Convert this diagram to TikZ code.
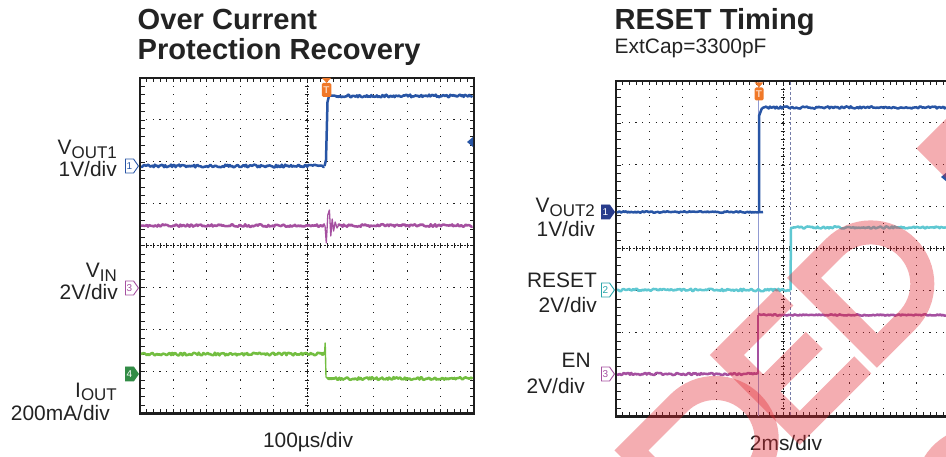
\documentclass[tikz,border=0pt]{standalone}
\usepackage{fontspec}
\setmainfont{Liberation Sans}
\usetikzlibrary{shapes.symbols}

% subscript of the channel labels
\newcommand{\chsub}[1]{\raisebox{-3.5bp}{\fontsize{17}{17}\selectfont #1}}

\begin{document}
\begin{tikzpicture}[x=1bp, y=-1bp,
    frame/.style={line width=2.6bp, draw=framegray},
    griddoth/.style={line width=1.1bp, draw=framegray, dash pattern=on 1.1bp off 5.58bp, dash phase=0.55bp},
    griddotv/.style={line width=1.1bp, draw=framegray, dash pattern=on 1.1bp off 7.29bp, dash phase=0.55bp},
    gridaxis/.style={line width=0.8bp, draw=framegray, dash pattern=on 2bp off 1.34bp},
    gridtick/.style={line width=0.7bp, draw=framegray},
    trace/.style={line width=2.5bp, line join=round},
    cursor/.style={line width=1bp, draw=cursorblue},
    cursordash/.style={line width=0.9bp, draw=cursorblue!80!black, dash pattern=on 3bp off 2bp},
    chmark/.style={shape=signal, signal to=east, signal pointer angle=110, minimum width=13bp,
        minimum height=14bp, inner sep=0.8bp, line width=0.9bp, font=\fontsize{10}{10}\selectfont, anchor=east},
    trigmark/.style={rectangle, rounded corners=1.5bp, fill=trigorange, text=trigorange!35!white,
        font=\fontsize{10}{10}\selectfont\bfseries, minimum width=9.5bp, minimum height=14bp, inner sep=0pt},
    lbl/.style={font=\fontsize{21}{23}\selectfont, text=inkgray, inner sep=0pt, anchor=base east},
    ttl/.style={font=\fontsize{29.2}{31}\selectfont\bfseries, text=inkgray, inner sep=0pt, anchor=base west},
    wmark/.style={draw=wmred, line width=24bp, opacity=0.38, line join=miter}]

    % colours of the scope shots
    \definecolor{inkgray}{RGB}{35,35,35}
    \definecolor{framegray}{RGB}{30,30,30}
    \definecolor{traceblue}{RGB}{40,85,165}
    \definecolor{markblue}{RGB}{40,60,140}
    \definecolor{tracepurple}{RGB}{165,80,160}
    \definecolor{tracegreen}{RGB}{115,190,65}
    \definecolor{markgreen}{RGB}{50,140,70}
    \definecolor{tracecyan}{RGB}{95,200,210}
    \definecolor{markcyan}{RGB}{40,165,170}
    \definecolor{trigorange}{RGB}{240,120,40}
    \definecolor{cursorblue}{RGB}{145,155,210}
    \definecolor{wmred}{RGB}{228,40,50}

    \useasboundingbox (0,0) rectangle (946,457);
    \clip (0,0) rectangle (946,457);
    \fill[white] (0,0) rectangle (946,457);
    \pgfmathsetseed{3}

    % --- grids of both screens ---
    \foreach \ox/\oy in {140/78, 616/81} {
        \begin{scope}[shift={(\ox,\oy)}]
            \foreach \i in {1,2,3,4,6,7,8,9} \draw[griddotv] (\i*33.4,0) -- (\i*33.4,335.5);
            \foreach \j in {1,2,3,5,6,7} \draw[griddoth] (0,\j*41.94) -- (334,\j*41.94);
            \draw[gridaxis] (167,0) -- (167,335.5);
            \draw[gridaxis] (0,167.75) -- (334,167.75);
            \foreach \k in {1,...,49} {
                \draw[gridtick] (\k*6.68,165.5) -- (\k*6.68,170);
                \draw[gridtick] (\k*6.68,1) -- (\k*6.68,4.5);
                \draw[gridtick] (\k*6.68,334.5) -- (\k*6.68,331);
            }
            \foreach \k in {1,...,39} {
                \draw[gridtick] (164.7,\k*8.3875) -- (169.3,\k*8.3875);
                \draw[gridtick] (1,\k*8.3875) -- (4.5,\k*8.3875);
                \draw[gridtick] (333,\k*8.3875) -- (329.5,\k*8.3875);
            }
            \draw[frame] (0,0) rectangle (334,335.5);
        \end{scope}
    }

    % --- 1. Over current protection recovery ---
    \draw[trace, traceblue] plot[domain=141:324.5, samples=160] (\x,{166+1.4*rand});
    \draw[trace, traceblue] (324.5,166) -- (326,160) -- (327.5,102) -- (329,96);
    \draw[trace, traceblue] plot[domain=329:472.5, samples=130] (\x,{96+1.4*rand});

    \draw[trace, tracepurple] plot[domain=141:325, samples=160] (\x,{225.5+1.3*rand});
    \draw[trace, tracepurple, line width=1.3bp] (325,225.5) -- (326.3,243) -- (327.8,215) -- (329.4,210)
        -- (330.8,236) -- (332.2,219) -- (333.6,231) -- (335.2,222) -- (337,228) -- (339,224.5);
    \draw[trace, tracepurple] plot[domain=338:472.5, samples=120] (\x,{225.5+1.3*rand});

    \draw[trace, tracegreen] plot[domain=141:324.5, samples=160] (\x,{354+1.4*rand});
    \draw[trace, tracegreen, line width=1.4bp] (324.5,354) -- (325.2,343) -- (326,377) -- (328,379);
    \draw[trace, tracegreen] plot[domain=327:472.5, samples=130] (\x,{378.5+1.4*rand});

    \node[chmark, draw=traceblue, fill=white, text=traceblue] (mA1) at (139,166) {1};
    \node[chmark, draw=tracepurple, fill=white, text=tracepurple] (mA3) at (139,288) {3};
    \node[chmark, draw=markgreen, fill=markgreen, text=white] (mA4) at (139,374) {4};
    \node[trigmark] (trigA) at (326.5,90) {T};
    \fill[trigorange] ([xshift=-4.8bp,yshift=5bp]trigA.north) -- ([xshift=4.8bp,yshift=5bp]trigA.north)
        -- (trigA.north) -- cycle;
    \fill[traceblue] (467,142) -- (473,137) -- (473,147) -- cycle;

    \node[ttl] (ttlA) at (137.5,30) {Over Current};
    \node[ttl] (ttlB) at (137.5,60) {Protection Recovery};
    \node[lbl] (vout1) at (117,155) {V\chsub{OUT1}};
    \node[lbl] (vout1div) at (117,177) {1V/div};
    \node[lbl] (vin) at (117,278) {V\chsub{IN}};
    \node[lbl] (vindiv) at (118,300) {2V/div};
    \node[lbl] (iout) at (117,397) {I\chsub{OUT}};
    \node[lbl] (ioutdiv) at (110,420) {200mA/div};
    \node[lbl, anchor=base] (tdivA) at (308,447) {100µs/div};

    % --- 2. RESET timing ---
    \draw[cursor] (758,82) -- (758,416);
    \draw[cursordash] (790,82) -- (790,416);

    \draw[trace, traceblue] plot[domain=617:758, samples=110] (\x,{212+0.8*rand}) -- (763,212);
    \draw[trace, traceblue] (759,212) -- (759,116) -- (762,108);
    \draw[trace, traceblue] plot[domain=762:946, samples=140] (\x,{107.5+1.1*rand});

    \draw[trace, tracecyan] plot[domain=617:790.5, samples=130] (\x,{290+1.2*rand});
    \draw[trace, tracecyan] (790.5,290) -- (791,228) -- (794,227.5);
    \draw[trace, tracecyan] plot[domain=793:946, samples=120] (\x,{227.5+1.1*rand});

    \draw[trace, tracepurple] plot[domain=617:758, samples=110] (\x,{374+1.1*rand});
    \draw[trace, tracepurple, line width=1.3bp] (758,374) -- (758,315);
    \draw[trace, tracepurple] plot[domain=758:946, samples=130] (\x,{315+0.7*rand});

    \node[chmark, draw=markblue, fill=markblue, text=white] (mB1) at (615,212) {1};
    \node[chmark, draw=markcyan, fill=white, text=markcyan] (mB2) at (615,290) {2};
    \node[chmark, draw=tracepurple, fill=white, text=tracepurple] (mB3) at (615,374) {3};
    \node[trigmark, minimum width=9bp, minimum height=13bp] (trigB) at (759,94) {T};
    \fill[trigorange] ([xshift=-4.5bp,yshift=5bp]trigB.north) -- ([xshift=4.5bp,yshift=5bp]trigB.north)
        -- (trigB.north) -- cycle;
    \fill[traceblue] (941,177) -- (947,172) -- (947,182) -- cycle;

    \node[ttl] (ttlC) at (614.5,29.5) {RESET Timing};
    \node[lbl, anchor=base west] (extcap) at (614.5,54) {ExtCap=3300pF};
    \node[lbl] (vout2) at (595,213) {V\chsub{OUT2}};
    \node[lbl] (vout2div) at (595,237) {1V/div};
    \node[lbl] (reset) at (597,288) {RESET};
    \node[lbl] (resetdiv) at (597,313) {2V/div};
    \node[lbl] (en) at (591,368) {EN};
    \node[lbl] (endiv) at (585,393) {2V/div};
    \node[lbl, anchor=base] (tdivB) at (786,450) {2ms/div};

    % --- 3. watermark letters, slanted 45 degrees ---
    \begin{scope}[x={(0.7071bp,0.7071bp)}, y={(-0.7071bp,0.7071bp)}]
        \draw[wmark] (128,-868) -- (128,-765) -- (195,-765) arc[start angle=90, end angle=-90, radius=51.5] -- cycle;
        \draw[wmark] (345,-765) -- (263,-765) -- (263,-868) -- (352,-868) (263,-816.5) -- (335,-816.5);
        \draw[wmark] (372,-868) -- (372,-765) -- (415,-765) arc[start angle=90, end angle=-90, radius=51.5] -- cycle;
        \draw[wmark] (555,-868) -- (555,-765) -- (620,-765);
        \draw[wmark] (345,-1039) ++(160:52) arc[start angle=160, end angle=30, radius=52];
    \end{scope}

\end{tikzpicture}
\end{document}
